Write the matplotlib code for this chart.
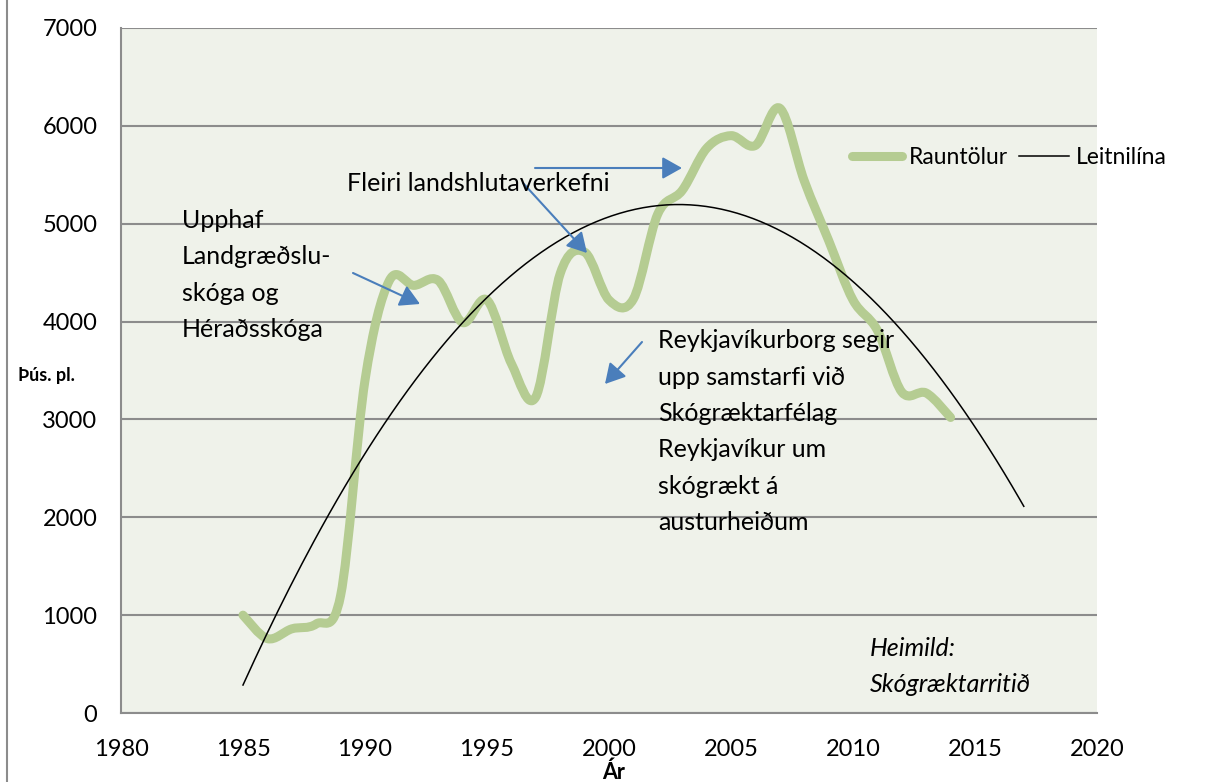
import numpy as np
import matplotlib
matplotlib.use("Agg")
import matplotlib.pyplot as plt
from matplotlib.path import Path
from matplotlib.patches import PathPatch, FancyArrowPatch
from matplotlib.lines import Line2D

plt.rcParams['font.family'] = ['Lato', 'DejaVu Sans']

# ---- data ----
years = [1985, 1986, 1987, 1988, 1989, 1990, 1991, 1992, 1993, 1994,
         1995, 1996, 1997, 1998, 1999, 2000, 2001, 2002, 2003, 2004,
         2005, 2006, 2007, 2008, 2009, 2010, 2011, 2012, 2013, 2014]
plants = [1000, 760, 860, 910, 1200, 3400, 4420, 4370, 4420, 3990,
          4220, 3570, 3230, 4490, 4710, 4220, 4230, 5100, 5340, 5770,
          5900, 5800, 6180, 5440, 4830, 4220, 3910, 3280, 3270, 3020]
x_ticks = [1980, 1985, 1990, 1995, 2000, 2005, 2010, 2015, 2020]
y_ticks = [0, 1000, 2000, 3000, 4000, 5000, 6000, 7000]
trend_end = 2017

W, H = 1218, 782
fig = plt.figure(figsize=(W / 100, H / 100), dpi=100)
ax = fig.add_axes([121 / W, 1 - 713 / H, (1097 - 121) / W, (713 - 28) / H])
ax.set_facecolor('#EFF2EA')

GREEN = '#B5CC92'
BLUE = '#4A7EBB'
GRID = '#8C8C8C'

# smoothed line (Excel-like Catmull-Rom via cubic Bezier)
xs = np.asarray(years, float)
ys = np.asarray(plants, float)
n = len(xs)
verts = [(xs[0], ys[0])]
codes = [Path.MOVETO]
for i in range(n - 1):
    p0 = np.array([xs[max(i - 1, 0)], ys[max(i - 1, 0)]])
    p1 = np.array([xs[i], ys[i]])
    p2 = np.array([xs[i + 1], ys[i + 1]])
    p3 = np.array([xs[min(i + 2, n - 1)], ys[min(i + 2, n - 1)]])
    c1 = p1 + (p2 - p0) / 6.0
    c2 = p2 - (p3 - p1) / 6.0
    verts += [tuple(c1), tuple(c2), tuple(p2)]
    codes += [Path.CURVE4] * 3
ax.add_patch(PathPatch(Path(verts, codes), facecolor='none', edgecolor=GREEN,
                       lw=6.5, capstyle='round', joinstyle='round', zorder=3))

# polynomial trendline (2nd order), extended forward
coef = np.polyfit(xs, ys, 2)
tx = np.linspace(years[0], trend_end, 200)
ax.plot(tx, np.polyval(coef, tx), color='black', lw=1.1, zorder=4)

ax.set_xlim(1980, 2020)
ax.set_ylim(0, 7000)
ax.set_xticks(x_ticks)
ax.set_yticks(y_ticks)
ax.tick_params(axis='both', length=0, labelsize=17, colors='black')
ax.tick_params(axis='y', pad=17)
ax.tick_params(axis='x', pad=19)
ax.grid(axis='y', color=GRID, lw=1.5)
ax.set_axisbelow(True)
for s in ['top', 'right']:
    ax.spines[s].set_visible(False)
for s in ['left', 'bottom']:
    ax.spines[s].set_color(GRID)
    ax.spines[s].set_linewidth(1.5)

def fx(x):
    return x / W

def fy(y):
    return 1 - y / H

# chart border line on left
fig.add_artist(Line2D([fx(7), fx(7)], [0, 1], color='#8C8C8C', lw=1.5))

# axis labels
fig.text(fx(18), fy(375), 'Þús. pl.', fontsize=13, fontweight='bold', ha='left', va='center')
fig.text(fx(614), fy(772), 'Ár', fontsize=15.5, fontweight='bold', ha='center', va='center')

# annotations (va='baseline' refers to the last line)
FS = 18
fig.text(fx(182), fy(337), 'Upphaf\nLandgræðslu-\nskóga og\nHéraðsskóga',
         fontsize=FS, ha='left', va='baseline', linespacing=1.7)
fig.text(fx(347), fy(191), 'Fleiri landshlutaverkefni', fontsize=FS, ha='left', va='baseline')
fig.text(fx(658), fy(530),
         'Reykjavíkurborg segir\nupp samstarfi við\nSkógræktarfélag\nReykjavíkur um\nskógrækt á\nausturheiðum',
         fontsize=FS, ha='left', va='baseline', linespacing=1.7)
fig.text(fx(870), fy(692), 'Heimild:\nSkógræktarritið', fontsize=FS, style='italic',
         ha='left', va='baseline', linespacing=1.7)

def arrow(x0, y0, x1, y1):
    fig.add_artist(FancyArrowPatch(
        (fx(x0), fy(y0)), (fx(x1), fy(y1)), transform=fig.transFigure,
        arrowstyle='-|>,head_length=0.8,head_width=0.45', mutation_scale=15,
        color=BLUE, lw=1.5, shrinkA=0, shrinkB=0))

arrow(353, 273, 420, 304)
arrow(535, 168, 682, 168)
arrow(523, 183, 587, 253)
arrow(642, 342, 605, 384)

# legend
handles = [Line2D([], [], color=GREEN, lw=6.5, solid_capstyle='round'),
           Line2D([], [], color='black', lw=1.1)]
fig.legend(handles, ['Rauntölur', 'Leitnilína'], ncol=2, frameon=False,
           loc='center left', bbox_to_anchor=(fx(852), fy(158)),
           fontsize=16.5, handlelength=2.2, handletextpad=0.3, columnspacing=0.45,
           borderpad=0, borderaxespad=0)

fig.savefig('out.png', dpi=100)
